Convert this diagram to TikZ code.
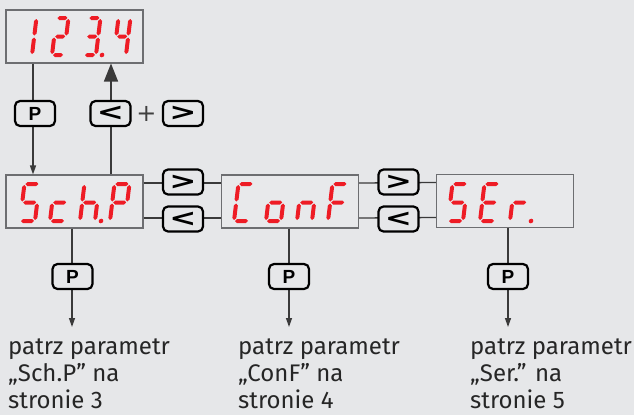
\documentclass[tikz,border=0pt]{standalone}
\usepackage{fontspec}
\usepackage{graphicx}
\setmainfont{Fira Sans}
\newfontfamily\btnfont{Liberation Sans}
\newfontfamily\chevfont{DejaVu Sans}
\usetikzlibrary{arrows.meta}
\definecolor{bgc}{HTML}{E6E7E9}
\definecolor{boxfill}{HTML}{E8E9EB}
\definecolor{segred}{HTML}{EE1C25}
\definecolor{boxline}{HTML}{6D6E71}
\definecolor{conn}{HTML}{3A3A3A}

\newcommand\SSW{15}
\newcommand\SSH{37}
\newcommand\sgH[3]{\fill[segred] ({#1+1},{#3}) -- ({#1+3},{#3+2}) -- ({#2-3},{#3+2}) -- ({#2-1},{#3}) -- ({#2-3},{#3-2}) -- ({#1+3},{#3-2}) -- cycle;}
\newcommand\sgV[3]{\fill[segred] ({#1},{#2+1}) -- ({#1+2},{#2+3}) -- ({#1+2},{#3-3}) -- ({#1},{#3-1}) -- ({#1-2},{#3-3}) -- ({#1-2},{#2+3}) -- cycle;}
\newcommand\SSa{\sgH{0}{\SSW}{\SSH}}
\newcommand\SSb{\sgV{\SSW}{\SSH/2}{\SSH}}
\newcommand\SSc{\sgV{\SSW}{0}{\SSH/2}}
\newcommand\SSd{\sgH{0}{\SSW}{0}}
\newcommand\SSe{\sgV{0}{0}{\SSH/2}}
\newcommand\SSf{\sgV{0}{\SSH/2}{\SSH}}
\newcommand\SSg{\sgH{0}{\SSW}{\SSH/2}}
\newcommand\SSp{\fill[segred] ({\SSW+6},0) circle (2.3);}
% x, y (bottom-left), width, segments
\newcommand\ssdigit[4]{%
  \begin{scope}[shift={(#1,#2)}, y=1pt, xslant=0.12]
    \renewcommand\SSW{#3}%
    \foreach \s in {#4}{\csname SS\s\endcsname}
  \end{scope}}

\begin{document}
\begin{tikzpicture}[x=1pt, y=-1pt,
  dbox/.style={draw=boxline, line width=1.1pt, fill=boxfill, minimum width=137pt, minimum height=53pt, inner sep=0pt},
  btn/.style={draw=black, line width=2.2pt, rounded corners=5pt, fill=bgc, minimum width=40pt, minimum height=25pt, inner sep=0pt},
  conn/.style={draw=conn, line width=1.3pt},
  smallarrow/.style={-{Triangle[length=9pt,width=6pt]}},
  bigarrow/.style={-{Triangle[length=18pt,width=14pt]}},
  lbl/.style={align=left, inner sep=0pt, font=\fontsize{24}{26.8}\selectfont, text=black!85},
  ptxt/.style={font=\btnfont\bfseries\fontsize{19}{19}\selectfont},
  ctxt/.style={font=\chevfont\bfseries\fontsize{24}{24}\selectfont}]
\fill[bgc] (0,0) rectangle (634,415);
\useasboundingbox (0,0) rectangle (634,415);

% displays
\node[dbox] (top) at (74.5,36.5) {};
\node[dbox] (schp) at (74.5,201.5) {};
\node[dbox] (conf) at (290,201.5) {};
\node[dbox] (ser) at (505,201) {};

% connectors
\draw[conn, smallarrow] ([xshift=-41.5pt]top.south) -- ([xshift=-41.5pt]schp.north);
\draw[conn, bigarrow] ([xshift=36.5pt]schp.north) -- ([xshift=36.5pt]top.south);
\draw[conn] ([yshift=18.5pt]schp.east) -- ([yshift=18.5pt]conf.west);
\draw[conn] ([yshift=-16.5pt]schp.east) -- ([yshift=-16.5pt]conf.west);
\draw[conn] ([yshift=18.5pt]conf.east) -- ([yshift=18.5pt]ser.west);
\draw[conn] ([yshift=-16.5pt]conf.east) -- ([yshift=-16.5pt]ser.west);

\coordinate (e1) at (72,327);
\coordinate (e2) at (289,327);
\coordinate (e3) at (508,327);
\draw[conn, smallarrow] (schp.south -| e1) -- (e1);
\draw[conn, smallarrow] (conf.south -| e2) -- (e2);
\draw[conn, smallarrow] (ser.south -| e3) -- (e3);

% buttons
\node[btn, ptxt] (ptop) at (35,113.5) {P};
\node[btn, ctxt] (ltop) at (110.5,113.5) {\scalebox{1.35}[1]{<}};
\node[inner sep=0pt, text=black!75] (plus) at (146.5,113.5) {\chevfont\fontsize{24}{24}\selectfont +};
\node[btn, ctxt] (rtop) at (183,113.5) {\scalebox{1.35}[1]{>}};

\node[btn, ctxt] (r1) at (183,182) {\scalebox{1.35}[1]{>}};
\node[btn, ctxt] (l1) at (183,219) {\scalebox{1.35}[1]{<}};
\node[btn, ctxt] (r2) at (398.5,182) {\scalebox{1.35}[1]{>}};
\node[btn, ctxt] (l2) at (398.5,219) {\scalebox{1.35}[1]{<}};

\node[btn, ptxt] (p1) at (72.5,276.5) {P};
\node[btn, ptxt] (p2) at (289,276.5) {P};
\node[btn, ptxt] (p3) at (508,276.5) {P};

% seven-segment digits: 123.4
\ssdigit{20}{55}{12}{b,c}
\ssdigit{52}{55}{12}{a,b,g,e,d}
\ssdigit{84}{55}{12}{a,b,g,c,d,p}
\ssdigit{114}{55}{12}{f,g,b,c}
% Sch.P
\ssdigit{20}{221}{15}{a,f,g,c,d}
\ssdigit{50}{221}{15}{g,e,d}
\ssdigit{80}{221}{15}{f,e,g,c,p}
\ssdigit{110}{221}{15}{a,b,f,g,e}
% ConF
\ssdigit{234}{221}{15}{a,f,e,d}
\ssdigit{266}{221}{15}{g,c,d,e}
\ssdigit{297}{221}{15}{e,g,c}
\ssdigit{328}{221}{15}{a,f,g,e}
% SEr.
\ssdigit{448}{221}{15}{a,f,g,c,d}
\ssdigit{480}{221}{15}{a,f,g,e,d}
\ssdigit{510}{221}{15}{e,g,p}

% labels
\node[lbl, anchor=north west] (t1) at (8,339) {patrz parametr\\„Sch.P” na\\stronie 3};
\node[lbl, anchor=north west] (t2) at (238,339) {patrz parametr\\„ConF” na\\stronie 4};
\node[lbl, anchor=north west] (t3) at (470,339) {patrz parametr\\„Ser.” na\\stronie 5};
\end{tikzpicture}
\end{document}
